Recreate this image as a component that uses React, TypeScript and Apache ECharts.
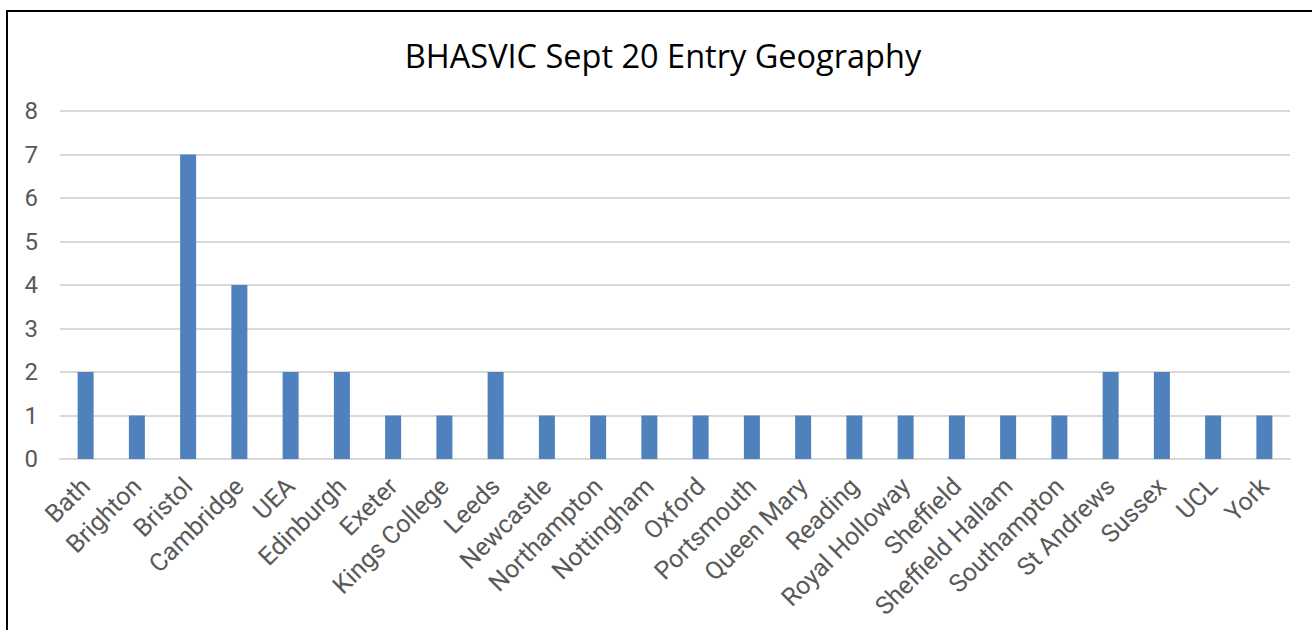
import React, { useEffect, useRef } from "react";
import * as echarts from "echarts";

const categories = [
  "Bath", "Brighton", "Bristol", "Cambridge", "UEA", "Edinburgh", "Exeter",
  "Kings College", "Leeds", "Newcastle", "Northampton", "Nottingham", "Oxford",
  "Portsmouth", "Queen Mary", "Reading", "Royal Holloway", "Sheffield",
  "Sheffield Hallam", "Southampton", "St Andrews", "Sussex", "UCL", "York",
];
const values = [2, 1, 7, 4, 2, 2, 1, 1, 2, 1, 1, 1, 1, 1, 1, 1, 1, 1, 1, 1, 2, 2, 1, 1];
const titleText = "BHASVIC Sept 20 Entry Geography";

export default function App() {
  const ref = useRef<HTMLDivElement>(null);
  useEffect(() => {
    if (!ref.current) return;
    const chart = echarts.init(ref.current, null, { renderer: "svg" });
    chart.setOption({
      animation: false,
      backgroundColor: "#ffffff",
      title: {
        text: titleText,
        left: 658,
        textAlign: "center",
        top: 34,
        textStyle: {
          fontFamily: "Open Sans",
          fontSize: 32.5,
          fontWeight: "normal",
          color: "#000000",
        },
      },
      graphic: [
        {
          type: "rect",
          shape: { x: 7, y: 11, width: 1330, height: 650 },
          style: { fill: "none", stroke: "#000000", lineWidth: 2 },
          z: 100,
        },
      ],
      grid: { left: 60, right: 22, top: 111, bottom: 171, containLabel: false },
      xAxis: {
        type: "category",
        data: categories,
        axisLine: { show: true, lineStyle: { color: "#d9d9d9", width: 2 } },
        axisTick: { show: false },
        axisLabel: {
          rotate: 45,
          interval: 0,
          margin: 23,
          fontFamily: "Roboto",
          fontSize: 25,
          color: "#595959",
        },
      },
      yAxis: {
        type: "value",
        min: 0,
        max: 8,
        interval: 1,
        axisLine: { show: false },
        axisTick: { show: false },
        splitLine: { lineStyle: { color: "#d9d9d9", width: 2 } },
        axisLabel: {
          margin: 22,
          fontFamily: "Roboto",
          fontSize: 24,
          color: "#595959",
        },
      },
      series: [
        {
          type: "bar",
          data: values,
          barWidth: 16,
          itemStyle: { color: "#4f81bd" },
        },
      ],
    });
    return () => chart.dispose();
  }, []);
  return (
    <div style={{ position: "fixed", left: 0, top: 0, width: 1312, height: 630, overflow: "hidden" }}>
      <div ref={ref} style={{ width: 1312, height: 630 }} />
    </div>
  );
}
